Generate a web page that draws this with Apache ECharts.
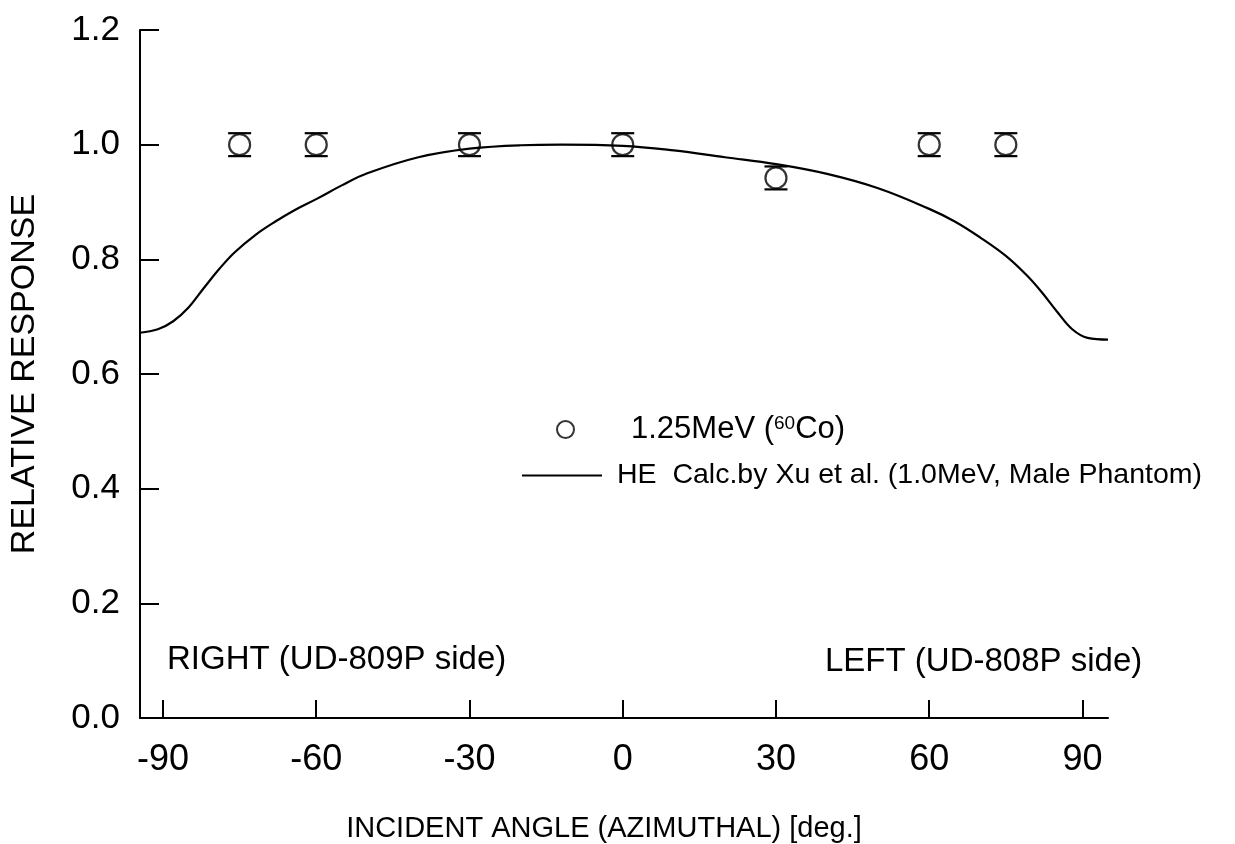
<!DOCTYPE html>
<html>
<head>
<meta charset="utf-8">
<title>Relative response vs incident angle</title>
<script src="https://cdn.jsdelivr.net/npm/echarts@6/dist/echarts.min.js"></script>
<style>
  html, body { margin: 0; padding: 0; background: #fff; }
  #chart { width: 1235px; height: 844px; }
</style>
</head>
<body>
<div id="chart"></div>
<script>
// Measured points: 1.25 MeV (60Co)
const measAngle = [-75, -60, -30, 0, 30, 60, 75];
const measResponse = [1.0, 1.0, 1.0, 1.0, 0.942, 1.0, 1.0];
const measError = [0.02, 0.02, 0.02, 0.02, 0.02, 0.02, 0.02];

// HE calculation by Xu et al. (1.0 MeV, male phantom)
const calcAngle = [-94.5, -91, -88, -85, -82, -79, -76, -72, -68, -64, -60, -55, -50, -40, -30, -20, -12, 0, 10, 20, 30, 40, 50, 60, 65, 70, 75, 79, 82, 85, 88, 91, 95];
const calcResponse = [0.672, 0.678, 0.692, 0.716, 0.75, 0.783, 0.812, 0.842, 0.866, 0.887, 0.905, 0.929, 0.95, 0.978, 0.993, 0.999, 1.0, 0.998, 0.99, 0.978, 0.966, 0.949, 0.924, 0.888, 0.866, 0.838, 0.806, 0.773, 0.743, 0.709, 0.678, 0.663, 0.66];

const xTicks = [-90, -60, -30, 0, 30, 60, 90];

const FONT = '"Liberation Sans", Arial, Helvetica, sans-serif';
const MARKER_SIZE = 21;

const chart = echarts.init(document.getElementById('chart'), null, { renderer: 'canvas' });

const measData = measAngle.map((a, i) => [a, measResponse[i]]);
const errData = measAngle.map((a, i) => [a, measResponse[i], measError[i]]);
const calcData = calcAngle.map((a, i) => [a, calcResponse[i]]);

// error bar: caps plus short stems between cap and circle outline
function renderErrorBar(params, api) {
  const x = api.value(0), y = api.value(1), e = api.value(2);
  const top = api.coord([x, y + e]);
  const bot = api.coord([x, y - e]);
  const mid = api.coord([x, y]);
  const r = MARKER_SIZE / 2;
  const hw = 11.5;
  const style = { stroke: '#000', lineWidth: 2.2 };
  const children = [
    { type: 'line', shape: { x1: top[0] - hw, y1: top[1], x2: top[0] + hw, y2: top[1] }, style },
    { type: 'line', shape: { x1: bot[0] - hw, y1: bot[1], x2: bot[0] + hw, y2: bot[1] }, style }
  ];
  if (mid[1] - top[1] > r) {
    children.push({ type: 'line', shape: { x1: mid[0], y1: top[1], x2: mid[0], y2: mid[1] - r }, style });
  }
  if (bot[1] - mid[1] > r) {
    children.push({ type: 'line', shape: { x1: mid[0], y1: mid[1] + r, x2: mid[0], y2: bot[1] }, style });
  }
  return { type: 'group', children };
}

const option = {
  backgroundColor: '#fff',
  animation: false,
  grid: { left: 140, right: 127, top: 30, bottom: 126, containLabel: false, outerBoundsMode: 'none' },
  xAxis: {
    type: 'value',
    min: -94.5,
    max: 95,
    name: 'INCIDENT ANGLE (AZIMUTHAL) [deg.]',
    nameLocation: 'middle',
    nameGap: 96,
    nameTextStyle: { fontFamily: FONT, fontSize: 29, color: '#000', padding: [0, 40, 0, 0] },
    axisLine: { show: true, onZero: false, lineStyle: { color: '#000', width: 2 } },
    axisTick: { show: true, inside: true, length: 18, customValues: xTicks, lineStyle: { color: '#000', width: 2 } },
    axisLabel: { customValues: xTicks, fontFamily: FONT, fontSize: 36, color: '#000', margin: 24 },
    splitLine: { show: false }
  },
  yAxis: {
    type: 'value',
    min: 0,
    max: 1.2,
    interval: 0.2,
    name: 'RELATIVE RESPONSE',
    nameLocation: 'middle',
    nameGap: 98,
    nameTextStyle: { fontFamily: FONT, fontSize: 34, color: '#000' },
    axisLine: { show: true, onZero: false, lineStyle: { color: '#000', width: 2 } },
    axisTick: { show: true, inside: true, length: 19, lineStyle: { color: '#000', width: 2 } },
    axisLabel: {
      fontFamily: FONT, fontSize: 35, color: '#000', margin: 20,
      formatter: v => v.toFixed(1)
    },
    splitLine: { show: false }
  },
  legend: [
    {
      data: [{ name: 'meas', icon: 'circle' }],
      left: 556,
      top: 414,
      itemWidth: 17,
      itemHeight: 17,
      padding: 0,
      itemStyle: { color: 'rgba(0,0,0,0)', borderColor: '#000', borderWidth: 2 },
      formatter: () => '1.25MeV ({sup|60}Co)',
      textStyle: {
        fontFamily: FONT, fontSize: 31, color: '#000', padding: [0, 0, 0, 52],
        rich: {
          sup: { fontFamily: FONT, fontSize: 19, color: '#000', verticalAlign: 'top', lineHeight: 22 }
        }
      }
    },
    {
      data: ['calc'],
      left: 521,
      top: 461,
      itemWidth: 80,
      itemHeight: 14,
      padding: 0,
      itemStyle: { opacity: 0 },
      lineStyle: { color: '#000', width: 2 },
      formatter: () => 'HE  Calc.by Xu et al. (1.0MeV, Male Phantom)',
      textStyle: { fontFamily: FONT, fontSize: 28.5, color: '#000', padding: [0, 0, 0, 10] }
    }
  ],
  graphic: [
    {
      type: 'text', left: 167, top: 643,
      style: { text: 'RIGHT (UD-809P side)', font: '33px ' + FONT, fill: '#000' }
    },
    {
      type: 'text', left: 825, top: 645,
      style: { text: 'LEFT (UD-808P side)', font: '33px ' + FONT, fill: '#000' }
    }
  ],
  series: [
    {
      name: 'calc',
      type: 'line',
      data: calcData,
      smooth: 0.4,
      symbol: 'none',
      lineStyle: { color: '#000', width: 2.2 },
      itemStyle: { color: '#000' },
      z: 2
    },
    {
      name: 'errbar',
      type: 'custom',
      data: errData,
      renderItem: renderErrorBar,
      z: 3
    },
    {
      name: 'meas',
      type: 'scatter',
      data: measData,
      symbol: 'circle',
      symbolSize: MARKER_SIZE,
      itemStyle: { color: 'rgba(0,0,0,0)', borderColor: '#000', borderWidth: 2.2 },
      z: 4
    }
  ]
};

chart.setOption(option);
</script>
</body>
</html>
